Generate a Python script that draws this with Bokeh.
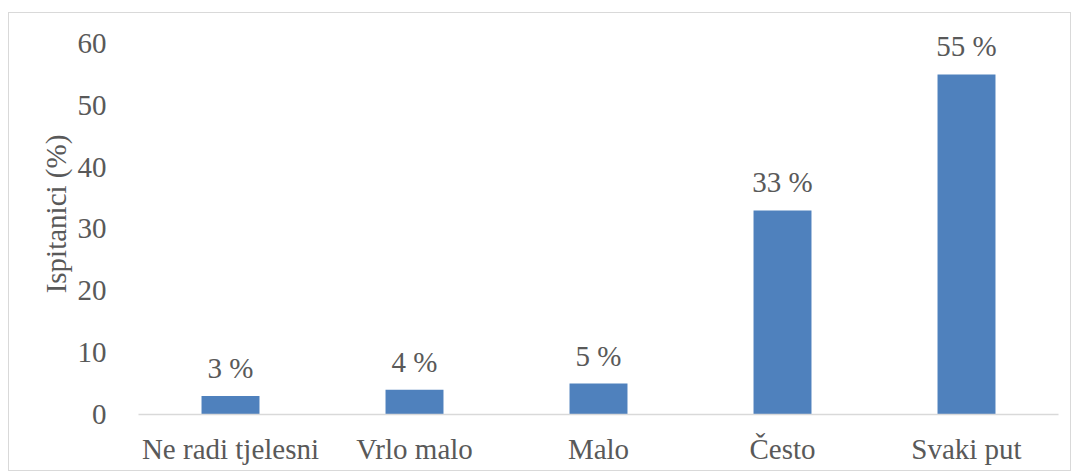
from bokeh.plotting import figure
from bokeh.models import ColumnDataSource, LabelSet, Title, FixedTicker, Range1d
from bokeh.embed import file_html
from bokeh.resources import INLINE

categories = ["Ne radi tjelesni", "Vrlo malo", "Malo", "Često", "Svaki put"]
values = [3, 4, 5, 33, 55]
labels = ["3 %", "4 %", "5 %", "33 %", "55 %"]
y_ticks = [0, 10, 20, 30, 40, 50, 60]
y_title = "Ispitanici (%)"

FONT = "Liberation Serif"
TXT = "#595959"
FS = "29px"

src = ColumnDataSource(dict(cat=categories, val=values, lab=labels))

p = figure(x_range=categories, y_range=Range1d(0, 64.85), width=1063, height=459,
           output_backend="svg", toolbar_location=None,
           min_border_left=129, min_border_right=14, min_border_top=0, min_border_bottom=58)
p.styles = {"border": "1px solid #d9d9d9", "margin-top": "12px", "margin-left": "8px"}
p.outline_line_color = None
p.grid.visible = False

p.vbar(x="cat", top="val", width=0.315, source=src, color="#4F81BD", line_color=None)

p.add_layout(LabelSet(x="cat", y="val", text="lab", source=src, text_align="center",
                      text_baseline="bottom", y_offset=12, text_font=FONT,
                      text_font_size=FS, text_color=TXT))

p.add_layout(Title(text=y_title, align="center", offset=15, standoff=6,
                   text_font=FONT, text_font_size=FS, text_color=TXT,
                   text_font_style="normal"), "left")

p.yaxis.ticker = FixedTicker(ticks=y_ticks)
p.yaxis.axis_line_color = None
p.yaxis.major_tick_line_color = None
p.yaxis.minor_tick_line_color = None
p.yaxis.major_label_standoff = 26
for ax in (p.xaxis, p.yaxis):
    ax.major_label_text_font = FONT
    ax.major_label_text_font_size = FS
    ax.major_label_text_color = TXT

p.xaxis.axis_line_color = "#d9d9d9"
p.xaxis.axis_line_width = 1.5
p.xaxis.major_tick_line_color = None
p.xaxis.minor_tick_line_color = None
p.xaxis.major_label_standoff = 12
p.x_range.range_padding = 0

open("out.html", "w").write(file_html(p, INLINE))
